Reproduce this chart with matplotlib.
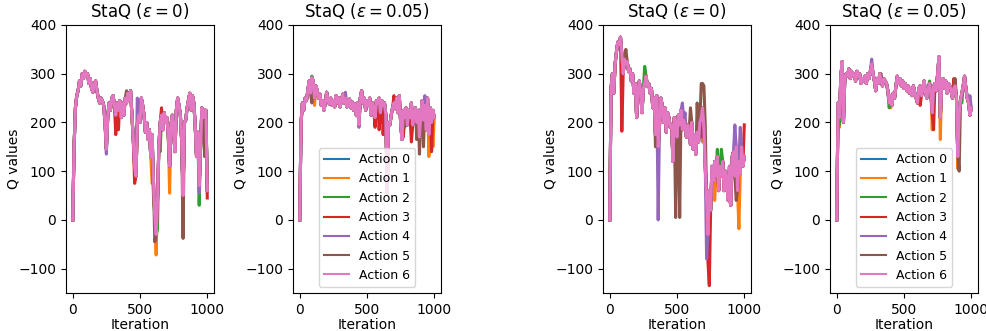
import numpy as np
import matplotlib
matplotlib.use('Agg')
import matplotlib.pyplot as plt

# iterations sampled every 10 steps
iterations = list(range(0, 1001, 10))

actions = ['Action 0', 'Action 1', 'Action 2', 'Action 3', 'Action 4', 'Action 5', 'Action 6']
titles = [r'StaQ ($\epsilon=0$)', r'StaQ ($\epsilon=0.05$)', r'StaQ ($\epsilon=0$)', r'StaQ ($\epsilon=0.05$)']

# Action 6 (drawn on top) for each panel
q_panel1 = [0, 150, 230, 255, 265, 285, 275, 300, 290, 305,
            295, 300, 280, 290, 270, 262, 280, 285, 265, 250,
            240, 250, 245, 235, 200, 145, 210, 240, 225, 250,
            255, 235, 215, 240, 225, 245, 210, 240, 215, 250,
            240, 260, 245, 265, 215, 165, 110, 90, 195, 215,
            200, 250, 235, 215, 180, 200, 165, 185, 130, 175,
            80, 10, -30, 40, 150, 200, 215, 185, 220, 200,
            210, 175, 110, 195, 215, 180, 140, 225, 250, 235,
            215, 160, 50, 200, 205, 230, 245, 260, 225, 255,
            240, 195, 130, 180, 70, 150, 230, 210, 225, 225, 60]

q_panel2 = [0, 200, 240, 225, 250, 245, 265, 285, 260, 292,
            285, 250, 275, 265, 250, 258, 235, 245, 225, 240,
            262, 245, 238, 250, 235, 245, 232, 255, 240, 250,
            232, 245, 258, 240, 250, 232, 245, 248, 230, 242,
            225, 238, 215, 240, 195, 250, 265, 240, 250, 225,
            245, 235, 250, 215, 240, 225, 210, 245, 240, 250,
            220, 245, 235, 240, 215, 55, 200, 195, 215, 230,
            240, 228, 250, 220, 255, 200, 165, 225, 210, 230,
            195, 225, 210, 240, 195, 215, 230, 200, 225, 170,
            215, 245, 205, 235, 185, 250, 175, 230, 200, 225, 210]

q_panel3 = [0, 270, 300, 260, 320, 345, 365, 360, 375, 340,
            300, 330, 320, 325, 305, 310, 285, 300, 260, 280,
            210, 265, 285, 260, 220, 270, 280, 295, 275, 280,
            260, 270, 230, 250, 175, 255, 150, 195, 250, 235,
            200, 230, 180, 220, 210, 190, 195, 120, 210, 200,
            170, 215, 195, 225, 185, 205, 190, 170, 195, 180,
            155, 200, 145, 175, 135, 180, 160, 200, 210, 230,
            190, 110, 40, -30, 60, 20, 110, 80, 120, 90,
            130, 60, 110, 90, 120, 60, 100, 80, 40, 110,
            30, 130, 140, 90, 150, 60, 120, 95, 150, 110, 130]

q_panel4 = [0, 240, 210, 290, 325, 200, 290, 300, 295, 310,
            290, 305, 295, 300, 285, 305, 295, 300, 280, 290,
            285, 295, 280, 300, 290, 305, 320, 300, 285, 265,
            290, 280, 300, 285, 275, 290, 285, 280, 265, 240,
            255, 235, 260, 250, 275, 295, 280, 290, 275, 285,
            270, 280, 265, 275, 260, 270, 255, 275, 260, 250,
            240, 270, 275, 255, 270, 285, 260, 250, 270, 280,
            260, 220, 275, 280, 265, 300, 335, 210, 280, 290,
            270, 285, 260, 280, 275, 265, 250, 270, 275, 250,
            130, 215, 245, 260, 275, 295, 270, 250, 240, 215, 230]

# where the other actions differ from Action 6: {iteration: value}
diff_panel1 = [
    {620: 0},
    {590: 75, 620: -72, 720: 55, 940: 85},
    {600: 50, 630: -20, 650: 140, 880: 255, 940: 30},
    {130: 280, 250: 150, 320: 175, 340: 185, 460: 75, 600: 60, 660: 230, 1000: 45},
    {250: 135, 480: 250, 940: 55},
    {400: 265, 610: -45, 820: -38, 980: 130},
]
diff_panel2 = [
    {},
    {110: 235, 560: 200, 960: 130, 990: 150},
    {90: 295, 330: 258},
    {560: 190, 590: 185, 620: 175, 700: 255, 770: 170, 830: 160, 960: 180, 980: 140},
    {340: 262, 440: 190, 930: 255},
    {90: 240, 780: 190, 870: 165, 890: 135, 920: 150},
]
diff_panel3 = [
    {740: 25},
    {690: 160, 780: 40, 960: -18},
    {260: 315, 800: 145, 830: 145},
    {90: 182, 690: 170, 730: -85, 740: -135, 890: 40, 1000: 195},
    {360: 0, 540: 240, 560: 220, 720: -80, 930: 195, 970: 190},
    {120: 350, 340: 150, 490: 5, 520: 5, 600: 230, 650: 240, 680: 280, 690: 280, 700: 275, 710: 195, 940: 40},
]
diff_panel4 = [
    {},
    {20: 190, 400: 230, 710: 185, 770: 165, 900: 105},
    {20: 195, 390: 230, 690: 285, 930: 240},
    {260: 305, 620: 235, 720: 185, 870: 290},
    {100: 300, 260: 330, 990: 255},
    {330: 300, 760: 320, 880: 290, 910: 100},
]

panels = [(q_panel1, diff_panel1), (q_panel2, diff_panel2),
          (q_panel3, diff_panel3), (q_panel4, diff_panel4)]
show_legend = [False, True, False, True]
lefts = [66, 293, 603, 830]

fig = plt.figure(figsize=(9.87, 3.31), dpi=100)

for k, (top, diffs) in enumerate(panels):
    ax = fig.add_axes([lefts[k] / 987, 38 / 331, 148 / 987, 268 / 331])
    top = np.array(top, dtype=float)
    for a in range(7):
        y = top.copy()
        if a < 6:
            for it, v in diffs[a].items():
                y[iterations.index(it)] = v
        ax.plot(iterations, y, color='C%d' % a, label=actions[a], lw=2.2)
    ax.set_ylim(-150, 400)
    ax.set_yticks([-100, 0, 100, 200, 300, 400])
    ax.set_xticks([0, 500, 1000])
    ax.set_title(titles[k], fontsize=12)
    ax.set_xlabel('Iteration', labelpad=1)
    ax.set_ylabel('Q values')
    ax.yaxis.set_label_coords(-0.31, 0.5)
    if show_legend[k]:
        leg = ax.legend(loc='lower center', fontsize=9)
        for line in leg.get_lines():
            line.set_linewidth(1.5)

fig.savefig('out.png', dpi=100)
